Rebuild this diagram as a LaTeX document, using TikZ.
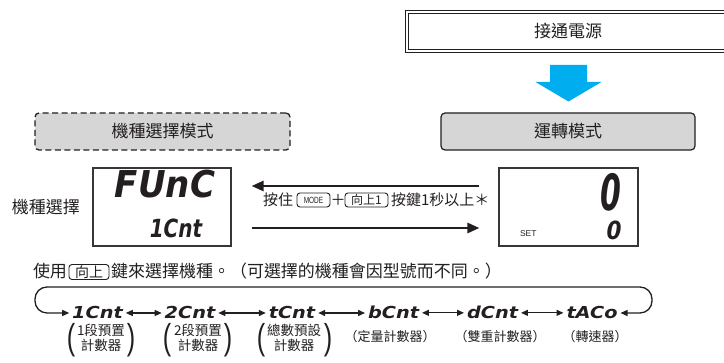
\documentclass[tikz,border=0pt]{standalone}
\usepackage{fontspec}
\usepackage{graphicx}
\setmainfont{Noto Sans CJK TC}
\newfontfamily\latinfont{Liberation Sans}
\newfontfamily\segfont{DejaVu Sans}
\usetikzlibrary{arrows.meta}
\definecolor{ink}{HTML}{231F20}
\definecolor{boxgray}{HTML}{D6D6D6}
\definecolor{cyanarrow}{HTML}{00ADEF}
\begin{document}
\begin{tikzpicture}[x=1pt,y=-1pt,
  txt/.style={text=ink, inner sep=0pt, outer sep=0pt},
  title/.style={txt, font=\fontsize{17}{17}\selectfont},
  powerbox/.style={title, draw=ink, line width=1pt, double=white, double distance=1.6pt},
  modebox/.style={title, draw=ink, line width=1.2pt, rounded corners=4pt, fill=boxgray},
  selbox/.style={title, draw=ink, line width=1.3pt, dash pattern=on 6pt off 3.5pt, rounded corners=4pt, fill=boxgray},
  lcd/.style={draw=ink!90, line width=1.1pt, inner sep=0pt},
  keybox/.style={txt, draw=ink, line width=0.9pt, rounded corners=3pt},
  segbig/.style={txt, anchor=base, font=\segfont\bfseries\itshape\fontsize{37}{37}\selectfont},
  segmid/.style={txt, anchor=base, font=\segfont\bfseries\itshape\fontsize{25}{25}\selectfont},
  seghuge/.style={txt, anchor=base, font=\segfont\bfseries\itshape\fontsize{50}{50}\selectfont},
  seqseg/.style={txt, anchor=base, outer xsep=3pt, font=\segfont\bfseries\itshape\fontsize{16.5}{16.5}\selectfont},
  midtxt/.style={txt, anchor=base west, font=\fontsize{15}{15}\selectfont},
  usetxt/.style={txt, anchor=base west, font=\fontsize{17}{17}\selectfont},
  lbl/.style={txt, align=center, font=\fontsize{13.5}{15.5}\selectfont},
  lblone/.style={txt, font=\fontsize{13}{13}\selectfont},
  paren/.style={txt, font=\latinfont\fontsize{36}{36}\selectfont},
  bigarrow/.style={draw=ink, line width=2.6pt, -{Triangle[length=12pt,width=10pt]}},
  seqarrow/.style={draw=ink, line width=1.3pt, {Triangle[length=7pt,width=6pt]}-{Triangle[length=7pt,width=6pt]}},
]
\useasboundingbox (0,0) rectangle (724,363);

% top
\node[powerbox, minimum width=322.4pt, minimum height=39.4pt] (power) at (568,31.5) {接通電源};
\fill[cyanarrow] (550,65) -- (587,65) -- (587,82) -- (601.5,82) -- (568.5,101.5) -- (535.5,82) -- (550,82) -- cycle;

% mode boxes
\node[modebox, minimum width=254pt, minimum height=37pt] (run) at (568,131.5) {運轉模式};
\node[selbox, minimum width=255pt, minimum height=37pt] (sel) at (162.5,131.5) {機種選擇模式};

% displays
\node[lcd, minimum width=138pt, minimum height=78pt] (lcdL) at (162,207) {};
\node[lcd, minimum width=139pt, minimum height=78pt] (lcdR) at (568.5,207) {};
\node[txt, font=\fontsize{17}{17}\selectfont] (sellbl) at (46,207) {機種選擇};

\node[segbig] (func) at (165,198) {\scalebox{0.92}[1]{FUnC}};
\node[segmid] (lcnt) at (176,238) {\scalebox{0.8}[1]{1Cnt}};
\node[seghuge] (zbig) at (611,211) {\scalebox{0.6}[1]{0}};
\node[segmid] (zsmall) at (614,240) {\scalebox{0.86}[1]{0}};
\node[txt, anchor=base west, font=\latinfont\fontsize{8.5}{8.5}\selectfont] (setlbl) at (520,237) {SET};

% arrows between displays
\draw[bigarrow, shorten <=19pt, shorten >=20pt] ([yshift=21pt]lcdR.west) -- ([yshift=21pt]lcdL.east);
\draw[bigarrow, shorten <=20pt, shorten >=19pt] ([yshift=-21pt]lcdL.east) -- ([yshift=-21pt]lcdR.west);

% middle text
\node[midtxt] (hold) at (263,206) {按住};
\node[keybox, minimum width=33pt, minimum height=14pt] (kmode) at (313.5,200) {\latinfont\fontsize{9}{9}\selectfont\scalebox{0.72}[1]{MODE}};
\node[txt, font=\fontsize{15}{15}\selectfont] (plus) at (338,200) {＋};
\node[keybox, minimum width=43pt, minimum height=14pt] (kup1) at (366.5,200) {\fontsize{12}{12}\selectfont 向上1};
\node[midtxt] (holdsec) at (391,206) {按鍵1秒以上＊};

% instruction
\node[usetxt] (use) at (33,278) {使用};
\node[keybox, minimum width=40pt, minimum height=15pt] (kup) at (89,272) {\fontsize{14}{14}\selectfont 向上};
\node[usetxt] (usemsg) at (111,278) {鍵來選擇機種。（可選擇的機種會因型號而不同。）};

% sequence
\node[seqseg] (s1) at (97.5,319) {\scalebox{1.17}[1]{1Cnt}};
\node[seqseg] (s2) at (190,319) {\scalebox{1.17}[1]{2Cnt}};
\node[seqseg] (s3) at (292,319) {\scalebox{1.17}[1]{tCnt}};
\node[seqseg] (s4) at (393.5,319) {\scalebox{1.17}[1]{bCnt}};
\node[seqseg] (s5) at (492.5,319) {\scalebox{1.17}[1]{dCnt}};
\node[seqseg] (s6) at (592,319) {\scalebox{1.17}[1]{tACo}};

\draw[seqarrow] (s1.east) -- (s1.east -| s2.west);
\draw[seqarrow] (s2.east) -- (s2.east -| s3.west);
\draw[seqarrow] (s3.east) -- (s3.east -| s4.west);
\draw[seqarrow] (s4.east) -- (s4.east -| s5.west);
\draw[seqarrow] (s5.east) -- (s5.east -| s6.west);

\coordinate (loopL) at (35,287);
\coordinate (loopR) at (652,287);
\draw[seqarrow, rounded corners=12pt] (s1.west) -| (loopL) -- (loopR) |- (s6.east);

% labels
\node[lbl] (l1) at (101,338) {1段預置\\計數器};
\node[paren] (l1o) at (71,340) {\scalebox{0.7}[1]{(}};
\node[paren] (l1c) at (131,340) {\scalebox{0.7}[1]{)}};
\node[lbl] (l2) at (198,338) {2段預置\\計數器};
\node[paren] (l2o) at (167,340) {\scalebox{0.7}[1]{(}};
\node[paren] (l2c) at (228,340) {\scalebox{0.7}[1]{)}};
\node[lbl] (l3) at (294,338) {總數預設\\計數器};
\node[paren] (l3o) at (261,340) {\scalebox{0.7}[1]{(}};
\node[paren] (l3c) at (328,340) {\scalebox{0.7}[1]{)}};
\node[lblone] (l4) at (390,337) {（定量計數器）};
\node[lblone] (l5) at (500,337) {（雙重計數器）};
\node[lblone] (l6) at (595,337) {（轉速器）};
\end{tikzpicture}
\end{document}
